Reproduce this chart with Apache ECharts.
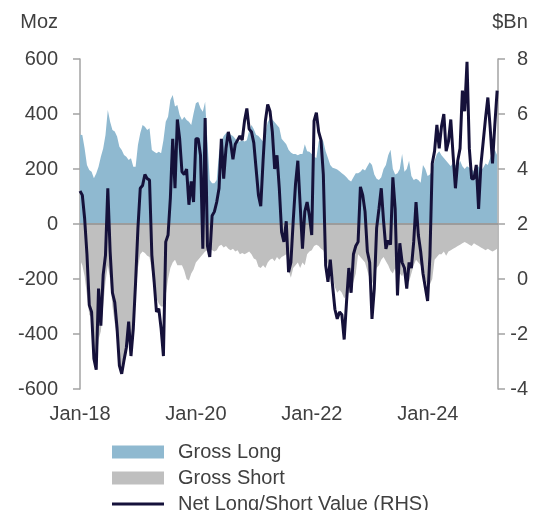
<!DOCTYPE html>
<html>
<head>
<meta charset="utf-8">
<script src="https://cdn.jsdelivr.net/npm/echarts@6.0.0/dist/echarts.min.js"></script>
<style>
  html, body { margin: 0; padding: 0; background: #fff; }
  #container { width: 542px; height: 510px; }
</style>
</head>
<body>
<div id="container"></div>
<script>
// readings taken roughly every two weeks, Jan 2018 to Mar 2025
var startYear = 2018;
var stepDays = 14.6;

// Moz
var grossLong = [
  325, 324, 275, 215, 196, 190, 166, 184, 208, 245, 275, 324, 415, 372, 342, 336, 318, 281, 269, 251,
  245, 233, 239, 208, 208, 287, 330, 360, 354, 342, 348, 269, 263, 257, 263, 257, 305, 372, 390, 451,
  469, 427, 433, 396, 378, 390, 378, 372, 360, 402, 439, 445, 421, 408, 445, 299, 160, 148, 148, 160,
  260, 300, 320, 330, 335, 325, 320, 310, 300, 300, 305, 300, 305, 340, 360, 345, 325, 320, 310, 300,
  330, 370, 385, 380, 370, 360, 350, 310, 300, 290, 270, 260, 255, 255, 250, 255, 255, 290, 265, 263,
  255, 245, 240, 300, 315, 300, 265, 240, 215, 205, 202, 198, 192, 185, 178, 170, 160, 155, 170, 185,
  185, 190, 200, 195, 210, 225, 215, 180, 165, 160, 170, 200, 215, 250, 270, 200, 180, 185, 200, 255,
  190, 200, 230, 175, 160, 165, 160, 150, 215, 200, 175, 180, 195, 230, 255, 265, 250, 240, 230, 220,
  210, 225, 215, 205, 230, 210, 200, 210, 205, 200, 190, 200, 210, 195, 205, 220, 215, 240, 265, 270,
  250
];

var grossShort = [
  -130, -150, -190, -260, -330, -340, -480, -530, -420, -390, -300, -210, -150, -200, -300, -360, -420, -520, -545, -510,
  -470, -400, -480, -420, -260, -160, -110, -100, -105, -115, -120, -170, -220, -270, -290, -300, -300, -260, -200, -160,
  -140, -130, -150, -150, -150, -170, -200, -205, -180, -165, -140, -130, -120, -110, -100, -95, -90, -95, -100, -95,
  -80, -75, -85, -80, -90, -95, -90, -100, -95, -110, -105, -110, -105, -100, -110, -125, -130, -155, -160, -150,
  -160, -140, -130, -125, -135, -120, -130, -120, -115, -110, -170, -195, -160, -150, -140, -160, -140, -150, -110, -100,
  -95, -80, -75, -80, -90, -95, -120, -150, -165, -190, -230, -250, -240, -250, -270, -260, -250, -240, -210, -180,
  -110, -120, -130, -140, -170, -200, -220, -190, -160, -150, -130, -120, -135, -150, -170, -180, -160, -200, -180, -190,
  -170, -200, -210, -180, -150, -130, -140, -150, -180, -200, -230, -220, -200, -130, -120, -110, -110, -100, -115, -100,
  -95, -90, -85, -80, -75, -70, -65, -70, -75, -80, -70, -75, -80, -85, -90, -95, -90, -95, -100, -95,
  -90
];

// $Bn, right axis
var netValue = [
  3.2, 3.05, 2.2, 0.9, -0.95, -1.2, -2.9, -3.3, -0.35, -1.7, 0.15, 0.87, 3.3, 1.0, -0.5, -0.85, -1.8, -3.15, -3.45, -2.95,
  -2.5, -1.55, -2.8, -1.8, -0.1, 1.85, 3.3, 3.4, 3.8, 3.65, 3.6, 0.87, -0.1, -1.2, -1.08, -1.8, -2.8, 1.35, 1.6, 2.95,
  5.1, 3.3, 5.8, 5.1, 3.9, 3.8, 4.0, 2.7, 3.55, 2.8, 5.1, 5.1, 4.5, 1.1, 5.85, 1.2, 0.8, 2.3, 2.45, 2.8,
  3.3, 5.1, 3.65, 4.75, 5.35, 4.95, 4.35, 4.9, 5.05, 5.2, 5.05, 5.75, 6.2, 5.45, 5.35, 4.95, 4.0, 3.05, 2.65, 4.3,
  5.75, 6.35, 6.1, 5.35, 4.0, 4.5, 3.3, 1.7, 1.35, 2.1, 0.25, 0.6, 2.1, 3.45, 4.3, 2.7, 1.1, 2.45, 2.8, 2.3,
  1.6, 5.75, 6.05, 5.35, 5.05, 3.8, 0.5, -0.1, 0.7, -0.25, -1.1, -1.45, -1.2, -1.3, -2.2, -0.85, 0.4, -0.5, 0.9, 1.2,
  1.35, 3.35, 3.05, 2.45, 1.0, 0.6, -1.45, -0.35, 1.85, 2.55, 3.3, 2.1, 1.1, 1.4, 1.25, 3.7, 2.55, -0.6, 1.3, 0.6,
  0.4, -0.35, 0.6, 0.4, 1.35, 2.8, 1.6, 1.0, 0.2, -0.3, -0.8, 0.85, 4.2, 4.65, 5.6, 4.75, 5.55, 6.0, 4.65, 5.0,
  5.8, 4.5, 3.3, 4.3, 4.75, 6.85, 6.1, 7.9, 4.75, 3.65, 3.65, 4.15, 2.55, 4.15, 5.0, 5.85, 6.6, 5.5, 4.2, 5.6,
  6.85
];

var yearTicks = [2018, 2020, 2022, 2024];

var textColor = '#404040';
var axisColor = '#a3a3a3';
var longColor = '#8fb9d0';
var shortColor = '#bfbfbf';
var netColor = '#15113a';
var font = 'Liberation Sans, Arial, sans-serif';

function withDates(values) {
  return values.map(function (v, i) {
    return [startYear + i * stepDays / 365.25, v];
  });
}

function legendRow(name, top, height, color) {
  return {
    orient: 'vertical',
    left: 112,
    top: top,
    padding: 0,
    itemWidth: 52,
    itemHeight: height,
    icon: 'rect',
    itemStyle: { color: color },
    textStyle: { fontSize: 20, color: textColor, fontFamily: font, padding: [0, 0, 0, 9] },
    data: [name]
  };
}

var chart = echarts.init(document.getElementById('container'), null, { renderer: 'canvas' });

chart.setOption({
  animation: false,
  textStyle: { fontFamily: font },
  grid: { left: 80, right: 44, top: 59, bottom: 121 },
  legend: [
    legendRow('Gross Long', 442, 13, longColor),
    legendRow('Gross Short', 468, 13, shortColor),
    legendRow('Net Long/Short Value (RHS)', 494, 3, netColor)
  ],
  xAxis: {
    type: 'value',
    min: 2018,
    max: 2025.21,
    interval: 2,
    axisLine: { show: false },
    axisTick: { show: false },
    splitLine: { show: false },
    axisLabel: {
      customValues: yearTicks,
      fontSize: 20,
      color: textColor,
      margin: 15,
      formatter: function (v) { return 'Jan-' + String(Math.round(v)).slice(2); }
    }
  },
  yAxis: [
    {
      type: 'value',
      min: -600,
      max: 600,
      interval: 200,
      name: 'Moz',
      nameLocation: 'end',
      nameGap: 37,
      nameTextStyle: { fontSize: 20, color: textColor, align: 'right', verticalAlign: 'middle', padding: [0, 22, 0, 0] },
      axisLine: { show: true, lineStyle: { color: axisColor, width: 1.5 } },
      axisTick: { show: true, length: 7, lineStyle: { color: axisColor, width: 1.5 } },
      splitLine: { show: false },
      axisLabel: { fontSize: 20, color: textColor, margin: 22 }
    },
    {
      type: 'value',
      min: -4,
      max: 8,
      interval: 2,
      position: 'right',
      name: '$Bn',
      nameLocation: 'end',
      nameGap: 37,
      nameTextStyle: { fontSize: 20, color: textColor, align: 'center', verticalAlign: 'middle', padding: [0, 0, 0, 24] },
      axisLine: { show: true, lineStyle: { color: axisColor, width: 1.5 } },
      axisTick: { show: true, length: 7, lineStyle: { color: axisColor, width: 1.5 } },
      splitLine: { show: false },
      axisLabel: { fontSize: 20, color: textColor, margin: 30, align: 'right' }
    }
  ],
  series: [
    {
      name: 'Gross Long',
      type: 'line',
      yAxisIndex: 0,
      data: withDates(grossLong),
      symbol: 'none',
      itemStyle: { color: longColor },
      lineStyle: { width: 0 },
      areaStyle: { color: longColor, opacity: 1 }
    },
    {
      name: 'Gross Short',
      type: 'line',
      yAxisIndex: 0,
      data: withDates(grossShort),
      symbol: 'none',
      itemStyle: { color: shortColor },
      lineStyle: { width: 0 },
      areaStyle: { color: shortColor, opacity: 1 },
      markLine: {
        silent: true,
        symbol: 'none',
        label: { show: false },
        lineStyle: { color: '#9c9c9c', width: 2, type: 'solid' },
        data: [{ yAxis: 0 }]
      }
    },
    {
      name: 'Net Long/Short Value (RHS)',
      type: 'line',
      yAxisIndex: 1,
      data: withDates(netValue),
      symbol: 'none',
      itemStyle: { color: netColor },
      lineStyle: { color: netColor, width: 3 },
      z: 5
    }
  ]
});
</script>
</body>
</html>
